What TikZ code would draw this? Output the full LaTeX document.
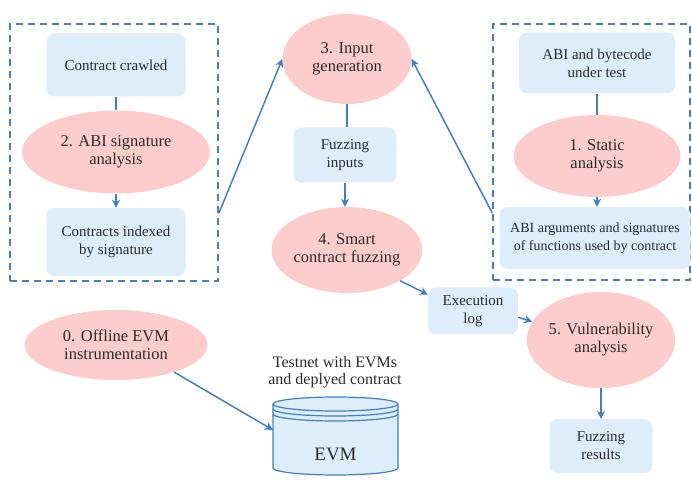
\documentclass[tikz,border=0pt]{standalone}
\usepackage{fontspec}
\setmainfont{Liberation Serif}
\usetikzlibrary{positioning, arrows.meta, shapes.geometric}
\definecolor{BoxFill}{HTML}{DDEDFC}
\definecolor{StageFill}{HTML}{FDCDCD}
\definecolor{FlowBlue}{HTML}{3F7FC4}
\definecolor{FrameBlue}{HTML}{4A7EBB}
\definecolor{TextDark}{HTML}{2B2B2B}

\begin{document}
\begin{tikzpicture}[x=1pt, y=1pt,
  box/.style={rounded corners=8pt, fill=BoxFill, text=TextDark, align=center,
              inner sep=2pt, font=\rmfamily\fontsize{15}{18}\selectfont},
  stage/.style={ellipse, fill=StageFill, text=TextDark, align=center,
                inner sep=0pt, font=\rmfamily\fontsize{16.5}{18}\selectfont},
  grp/.style={draw=FrameBlue, line width=1.5pt, dash pattern=on 7pt off 5pt},
  link/.style={line width=1.5pt, FlowBlue},
  arr/.style={link, -{Stealth[length=8pt, width=8pt, inset=2.5pt]}},
  cyl/.style={draw=FlowBlue, line width=1.2pt},
]
  \useasboundingbox (0,0) rectangle (692,479);

  % dashed groups
  \node[grp, minimum width=208, minimum height=257] (leftgrp) at (114,326.5) {};
  \node[grp, minimum width=197, minimum height=256] (rightgrp) at (591.5,327) {};

  % left group
  \node[box, minimum width=139, minimum height=63] (crawled) at (116,414) {Contract crawled};
  \node[stage, minimum width=188, minimum height=83] (sigan) at (116,327) {2. ABI signature\\analysis};
  \node[box, minimum width=139, minimum height=68] (indexed) at (116,237) {Contracts indexed\\by signature};

  % right group
  \node[box, minimum width=156, minimum height=61] (bytecode) at (597,416) {ABI and bytecode\\under test};
  \node[stage, minimum width=167, minimum height=82] (static) at (597,323) {1. Static\\analysis};
  \node[box, minimum width=191, minimum height=62, font=\rmfamily\fontsize{14}{18}\selectfont] (args) at (595,241)
    {ABI arguments and signatures\\of functions used by contract};

  % middle column
  \node[stage, minimum width=129, minimum height=90] (gen) at (347,420) {3. Input\\generation};
  \node[box, minimum width=103, minimum height=55] (inputs) at (345,324) {Fuzzing\\inputs};
  \node[stage, minimum width=147, minimum height=86] (fuzz) at (347,229) {4. Smart\\contract fuzzing};
  \node[box, minimum width=90, minimum height=47] (log) at (473,168) {Execution\\log};
  \node[stage, minimum width=139, minimum height=96] (vuln) at (601,139) {5. Vulnerability\\analysis};
  \node[box, minimum width=103, minimum height=54] (results) at (601,33) {Fuzzing\\results};

  % bottom left
  \node[stage, minimum width=183, minimum height=70] (offline) at (116,134) {0. Offline EVM\\instrumentation};
  \node[text=TextDark, align=center, font=\rmfamily\fontsize{16}{17}\selectfont] (testnet) at (335,107)
    {Testnet with EVMs\\and deplyed contract};

  % EVM cylinder
  \fill[BoxFill] (273,75) -- (273,11) arc[start angle=180, end angle=360, x radius=62.5, y radius=7]
    -- (398,75) arc[start angle=0, end angle=180, x radius=62.5, y radius=7] -- cycle;
  \draw[cyl] (273,75) -- (273,11) arc[start angle=180, end angle=360, x radius=62.5, y radius=7] -- (398,75);
  \draw[cyl] (335.5,75) ellipse[x radius=62.5, y radius=7];
  \draw[cyl] (273,70) arc[start angle=180, end angle=360, x radius=62.5, y radius=7];
  \draw[cyl] (273,65) arc[start angle=180, end angle=360, x radius=62.5, y radius=7];
  \node[text=TextDark, font=\rmfamily\fontsize{19}{22}\selectfont] (evm) at (335.5,25) {EVM};
  \coordinate (evmin) at (273,49);

  % connectors
  \draw[link] (crawled) -- (sigan);
  \draw[arr] (sigan) -- (indexed);
  \draw[link] (bytecode) -- (static);
  \draw[arr] (static.south) -- (static.south |- args.north);
  \draw[link] (gen.south) -- (gen.south |- inputs.north);
  \draw[arr] (inputs.south) -- (inputs.south |- fuzz.north);
  \draw[arr] ([yshift=-61]leftgrp.east) -- (gen.west);
  \draw[arr] ([yshift=-61]rightgrp.west) -- (gen.east);
  \draw[arr] (fuzz.-30) -- (log.160);
  \draw[arr] (log.-8) -- (vuln.165);
  \draw[arr] (vuln) -- (results);
  \draw[arr] (offline.-25) -- (evmin);
\end{tikzpicture}
\end{document}
